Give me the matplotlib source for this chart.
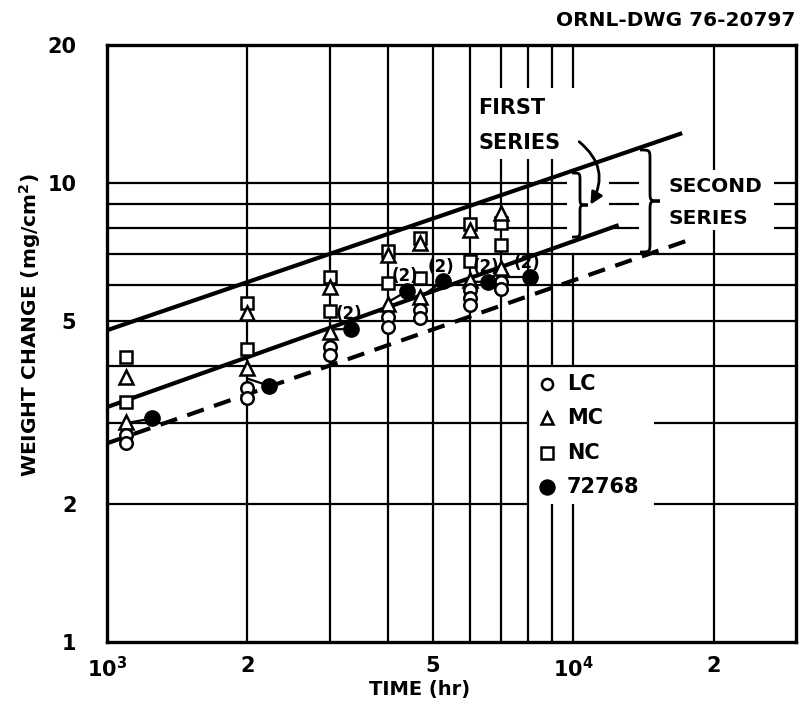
import matplotlib.pyplot as plt
from matplotlib.patches import FancyArrowPatch, PathPatch
from matplotlib.path import Path
from matplotlib.ticker import FixedLocator, NullLocator

# open symbols: exposure time (hr) and weight change (mg/cm2)
lc_time = [1100, 1100, 2000, 2000, 3000, 3000, 4000, 4000, 4700, 4700,
           6000, 6000, 6000, 7000, 7000]
lc_weight = [2.83, 2.72, 3.58, 3.40, 4.39, 4.23, 5.10, 4.86, 5.30, 5.08,
             5.85, 5.62, 5.42, 6.10, 5.88]
mc_time = [1100, 1100, 2000, 2000, 3000, 3000, 4000, 4000, 4700, 4700,
           6000, 6000, 7000, 7000]
mc_weight = [3.78, 3.02, 5.21, 3.95, 5.94, 4.73, 6.97, 5.45, 7.40, 5.65,
             7.90, 6.15, 8.60, 6.52]
nc_time = [1100, 1100, 2000, 2000, 3000, 3000, 4000, 4000, 4700, 4700,
           6000, 6000, 7000, 7000]
nc_weight = [4.18, 3.33, 5.48, 4.35, 6.24, 5.27, 7.10, 6.05, 7.60, 6.20,
             8.15, 6.75, 8.20, 7.33]

# heat 72768 (filled circles), with leader back to the group
h72768_time = [1250, 2220, 3330, 4400, 5250, 6560, 8050]
h72768_weight = [3.07, 3.62, 4.81, 5.82, 6.11, 6.09, 6.24]
leader_time = [1100, 2000, 3000, 4000, 4700, 6000, 7000]
leader_weight = [3.00, 3.75, 4.80, 5.50, 5.65, 6.10, 6.24]
dup_labels = ["", "", "(2)", "(2)", "(2)", "(2)", "(2)"]

# fitted lines (end points)
upper_time = [1000, 17100]
upper_weight = [4.78, 12.85]
middle_time = [1000, 12500]
middle_weight = [3.25, 8.10]
lower_time = [1000, 17900]
lower_weight = [2.71, 7.55]

x_ticks = [1000, 2000, 5000, 10000, 20000]
x_ticklabels = [r"$10^3$", "2", "5", r"$10^4$", "2"]
y_ticks = [1, 2, 5, 10, 20]
y_ticklabels = ["1", "2", "5", "10", "20"]

plt.rcParams["font.family"] = "DejaVu Sans"
plt.rcParams["font.weight"] = "bold"
plt.rcParams["mathtext.default"] = "bf"

W, H = 800, 715
fig = plt.figure(figsize=(8, 7.15), dpi=100)
ax = fig.add_axes([107 / W, 1 - 642 / H, (796 - 107) / W, (642 - 45) / H])
ax.set_xscale("log")
ax.set_yscale("log")
ax.set_xlim(1000, 30000)
ax.set_ylim(1, 20)


def px(x, y):
    # image pixel -> figure fraction
    return x / W, 1 - y / H


# grid drawn by hand, with gaps where the lettering sits
grid_kw = dict(color="black", lw=1.6, zorder=1)
for w in [2, 3, 4, 5, 6, 7, 8, 9, 10]:
    if w in (8, 9, 10):
        ax.hlines(w, 1000, 9700, **grid_kw)
        ax.hlines(w, 11900, 13800, **grid_kw)
        ax.hlines(w, 26900, 30000, **grid_kw)
    elif w in (2, 3):
        ax.hlines(w, 1000, 8000, **grid_kw)
        ax.hlines(w, 14900, 30000, **grid_kw)
    else:
        ax.hlines(w, 1000, 30000, **grid_kw)

for t in [2000, 3000, 4000, 5000, 6000, 7000, 8000, 9000, 10000, 20000]:
    if t in (7000, 8000):
        ax.vlines(t, 1, 11.3, **grid_kw)
        ax.vlines(t, 16.1, 20, **grid_kw)
    elif t == 9000:
        ax.vlines(t, 1, 2, **grid_kw)
        ax.vlines(t, 4, 11.3, **grid_kw)
        ax.vlines(t, 16.1, 20, **grid_kw)
    elif t == 10000:
        ax.vlines(t, 1, 2, **grid_kw)
        ax.vlines(t, 4, 7, **grid_kw)
        ax.vlines(t, 16.1, 20, **grid_kw)
    elif t == 20000:
        ax.vlines(t, 1, 7.9, **grid_kw)
        ax.vlines(t, 10.7, 20, **grid_kw)
    else:
        ax.vlines(t, 1, 20, **grid_kw)

# fitted lines
ax.plot(upper_time, upper_weight, color="black", lw=3.0, zorder=2,
        solid_capstyle="butt")
ax.plot(middle_time, middle_weight, color="black", lw=3.0, zorder=2,
        solid_capstyle="butt")
ax.plot(lower_time, lower_weight, color="black", lw=3.0, zorder=2,
        dashes=(4.2, 2.6))

# leaders from 72768 points
for t, w, lt, lw_ in zip(h72768_time, h72768_weight, leader_time, leader_weight):
    ax.plot([lt, t], [lw_, w], color="black", lw=1.6, zorder=2)

mk = dict(ls="none", mec="black", mfc="white", mew=1.8, zorder=4)
ax.plot(nc_time, nc_weight, marker="s", ms=9, label="NC", **mk)
ax.plot(mc_time, mc_weight, marker="^", ms=10, label="MC", **mk)
ax.plot(lc_time, lc_weight, marker="o", ms=9, label="LC", **mk)
ax.plot(h72768_time, h72768_weight, marker="o", ms=11, ls="none",
        color="black", zorder=5, label="72768")

for t, w, s in zip(h72768_time, h72768_weight, dup_labels):
    if s:
        ax.annotate(s, (t, w), xytext=(-1.5, 10.5), textcoords="offset points",
                    ha="center", va="center", fontsize=12, zorder=6)

# axes styling
for s in ax.spines.values():
    s.set_linewidth(2.4)
ax.xaxis.set_major_locator(FixedLocator(x_ticks))
ax.xaxis.set_minor_locator(NullLocator())
ax.yaxis.set_major_locator(FixedLocator(y_ticks))
ax.yaxis.set_minor_locator(NullLocator())
ax.set_xticklabels(x_ticklabels)
ax.set_yticklabels(y_ticklabels)
ax.tick_params(length=0, labelsize=15, pad=10)
ax.tick_params(axis="y", pad=22)

fig.text(*px(420, 690), "TIME (hr)", ha="center", va="center", fontsize=14)
fig.text(*px(30, 325), "WEIGHT CHANGE (mg/cm$^2$)", ha="center", va="center",
         rotation=90, fontsize=14.5)
fig.text(*px(795, 20), "ORNL-DWG 76-20797", ha="right", va="center",
         fontsize=14.5)

# legend, hand placed in the gap of the grid
leg = [("o", "white", "LC", 384), ("^", "white", "MC", 418),
       ("s", "white", "NC", 453), ("o", "black", "72768", 487)]
for m, fc, lab, yy in leg:
    x0, y0 = px(547, yy)
    fig.add_artist(plt.Line2D([x0], [y0], marker=m, ms=8 if fc == "white" else 10,
                              mfc=fc, mec="black", mew=1.8, ls="none",
                              transform=fig.transFigure))
    fig.text(*px(567, yy), lab, ha="left", va="center", fontsize=15)

# series annotations
fig.text(*px(478, 108), "FIRST", ha="left", va="center", fontsize=15)
fig.text(*px(478, 143), "SERIES", ha="left", va="center", fontsize=15)
fig.text(*px(669, 187), "SECOND", ha="left", va="center", fontsize=14.5)
fig.text(*px(669, 218), "SERIES", ha="left", va="center", fontsize=14.5)


def brace(x, y0, y1, w, q):
    ym = (y0 + y1) / 2
    xm = x + w / 2
    pts = [(x, y0), (xm, y0), (xm, y0), (xm, y0 + q),
           (xm, ym - q),
           (xm, ym), (xm, ym), (x + w, ym),
           (xm, ym), (xm, ym), (xm, ym + q),
           (xm, y1 - q),
           (xm, y1), (xm, y1), (x, y1)]
    codes = [Path.MOVETO, Path.CURVE4, Path.CURVE4, Path.CURVE4,
             Path.LINETO,
             Path.CURVE4, Path.CURVE4, Path.CURVE4,
             Path.CURVE4, Path.CURVE4, Path.CURVE4,
             Path.LINETO,
             Path.CURVE4, Path.CURVE4, Path.CURVE4]
    pts = [px(a, b) for a, b in pts]
    fig.add_artist(PathPatch(Path(pts, codes), fill=False, lw=2.0,
                             transform=fig.transFigure))


brace(572, 173, 237, 16, 8)
brace(640, 150, 252, 20, 10)

arrow = FancyArrowPatch(px(577, 140), px(589, 207), transform=fig.transFigure,
                        connectionstyle="arc3,rad=-0.45", arrowstyle="-|>",
                        mutation_scale=18, lw=2.0, color="black")
fig.add_artist(arrow)

fig.savefig("out.png", dpi=100, facecolor="white")
